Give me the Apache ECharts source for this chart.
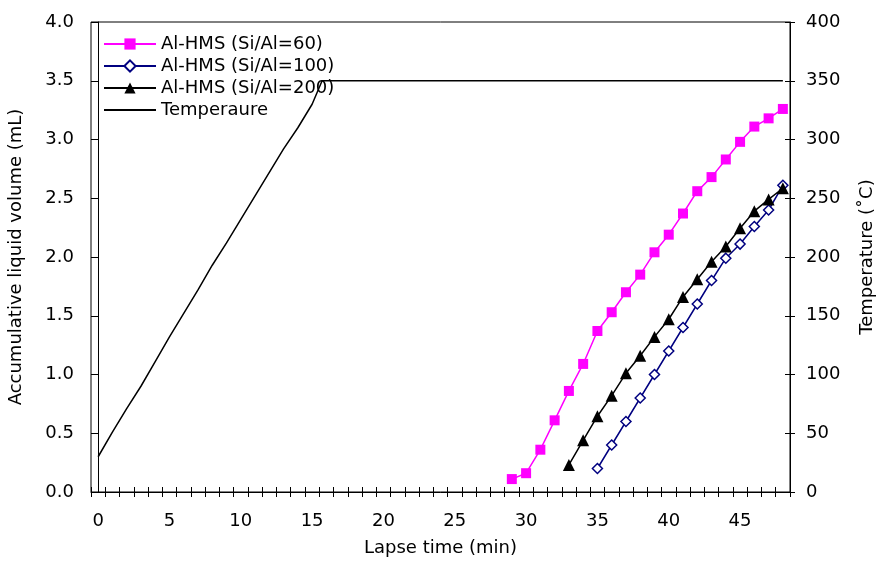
<!DOCTYPE html>
<html>
<head>
<meta charset="utf-8">
<script src="https://cdn.jsdelivr.net/npm/echarts@6/dist/echarts.min.js"></script>
<style>
html,body{margin:0;padding:0;background:#fff;}
#chart{width:877px;height:562px;}
</style>
</head>
<body>
<div id="chart"></div>
<script>
// ---- data ----
var minutes = [];
for (var m = 0; m <= 48; m++) minutes.push(String(m));

var timeSi60 = [29,30,31,32,33,34,35,36,37,38,39,40,41,42,43,44,45,46,47,48];
var volSi60  = [0.11,0.16,0.36,0.61,0.86,1.09,1.37,1.53,1.70,1.85,2.04,2.19,2.37,2.56,2.68,2.83,2.98,3.11,3.18,3.26];

var timeSi100 = [35,36,37,38,39,40,41,42,43,44,45,46,47,48];
var volSi100  = [0.20,0.40,0.60,0.80,1.00,1.20,1.40,1.60,1.80,1.99,2.11,2.26,2.40,2.61];

var timeSi200 = [33,34,35,36,37,38,39,40,41,42,43,44,45,46,47,48];
var volSi200  = [0.23,0.44,0.645,0.82,1.01,1.16,1.32,1.47,1.66,1.81,1.96,2.09,2.245,2.39,2.49,2.585];

var timeTemp = [0,1,2,3,4,5,6,7,8,9,10,11,12,13,14,15,15.7,48];
var temp     = [30,51,71,90,111,132,152,172,193,212,232,252,272,292,310,330,350,350];

var names = ['Al-HMS (Si/Al=60)','Al-HMS (Si/Al=100)','Al-HMS (Si/Al=200)','Temperaure'];

function pairs(xs, ys){ return xs.map(function(x,i){ return [x, ys[i]]; }); }

var FONT = 'DejaVu Sans';
var FS = 18;

var chart = echarts.init(document.getElementById('chart'), null, {renderer:'canvas'});

chart.setOption({
  animation:false,
  backgroundColor:'#ffffff',
  textStyle:{fontFamily:FONT, color:'#000'},
  grid:{show:true, borderColor:'#000', borderWidth:1, backgroundColor:'transparent',
    containLabel:false, outerBoundsMode:'none',
    left:91, right:87, top:22, bottom:70},
  legend:{
    orient:'vertical', left:103, top:35, padding:0,
    itemWidth:52, itemHeight:14, itemGap:4,
    textStyle:{fontFamily:FONT, fontSize:FS, color:'#000'},
    data:[names[0], names[1], names[2], {name:names[3], itemStyle:{opacity:0}}]
  },
  xAxis:[
    {type:'value', min:-0.5, max:48.5, show:false},
    {type:'category', data:minutes, boundaryGap:true, position:'bottom',
      axisLine:{show:true, lineStyle:{color:'#000', width:1}},
      axisTick:{show:true, interval:0, inside:false, length:5, lineStyle:{color:'#000'}},
      axisLabel:{interval:4, margin:20, fontFamily:FONT, fontSize:FS, color:'#000'},
      splitLine:{show:false},
      name:'Lapse time (min)', nameLocation:'middle', nameGap:47,
      nameTextStyle:{fontFamily:FONT, fontSize:FS, color:'#000'}
    },
    {type:'category', data:minutes, boundaryGap:true, position:'bottom',
      axisLine:{show:false},
      axisTick:{show:true, interval:0, inside:true, length:5, lineStyle:{color:'#000'}},
      axisLabel:{show:false}, splitLine:{show:false}
    }
  ],
  yAxis:[
    {type:'value', min:0, max:4, interval:0.5, position:'left',
      axisLine:{show:true, lineStyle:{color:'#000'}},
      axisTick:{show:true, inside:false, length:5, lineStyle:{color:'#000'}},
      axisLabel:{margin:17, fontFamily:FONT, fontSize:FS, color:'#000', formatter:function(v){return v.toFixed(1);}},
      splitLine:{show:false},
      name:'Accumulative liquid volume (mL)', nameLocation:'middle', nameGap:66,
      nameTextStyle:{fontFamily:FONT, fontSize:FS, color:'#000'}
    },
    {type:'value', min:0, max:400, interval:50, position:'right',
      axisLine:{show:true, lineStyle:{color:'#000'}},
      axisTick:{show:true, inside:false, length:5, lineStyle:{color:'#000'}},
      axisLabel:{margin:16, fontFamily:FONT, fontSize:FS, color:'#000'},
      splitLine:{show:false},
      name:'Temperature (\u02DAC)', nameLocation:'middle', nameGap:68, nameRotate:90,
      nameTextStyle:{fontFamily:FONT, fontSize:FS, color:'#000'}
    },
    {type:'value', min:0, max:4, interval:0.5, position:'left',
      axisLine:{show:false}, axisTick:{show:true, inside:true, length:5, lineStyle:{color:'#000'}},
      axisLabel:{show:false}, splitLine:{show:false}
    },
    {type:'value', min:0, max:400, interval:50, position:'right',
      axisLine:{show:false}, axisTick:{show:true, inside:true, length:5, lineStyle:{color:'#000'}},
      axisLabel:{show:false}, splitLine:{show:false}
    }
  ],
  series:[
    {name:names[0], type:'line', xAxisIndex:0, yAxisIndex:0, data:pairs(timeSi60, volSi60),
      symbol:'rect', symbolSize:10, showAllSymbol:true,
      lineStyle:{color:'#FF00FF', width:1.5}, itemStyle:{color:'#FF00FF'}},
    {name:names[1], type:'line', xAxisIndex:0, yAxisIndex:0, data:pairs(timeSi100, volSi100),
      symbol:'diamond', symbolSize:10, showAllSymbol:true,
      lineStyle:{color:'#000080', width:1.5}, itemStyle:{color:'#ffffff', borderColor:'#000080', borderWidth:1.5}},
    {name:names[2], type:'line', xAxisIndex:0, yAxisIndex:0, data:pairs(timeSi200, volSi200),
      symbol:'triangle', symbolSize:12, showAllSymbol:true,
      lineStyle:{color:'#000000', width:1.5}, itemStyle:{color:'#000000'}},
    {name:names[3], type:'line', xAxisIndex:0, yAxisIndex:1, data:pairs(timeTemp, temp),
      symbol:'none', lineStyle:{color:'#000000', width:1.5}, itemStyle:{color:'#000000'}}
  ]
});
</script>
</body>
</html>
